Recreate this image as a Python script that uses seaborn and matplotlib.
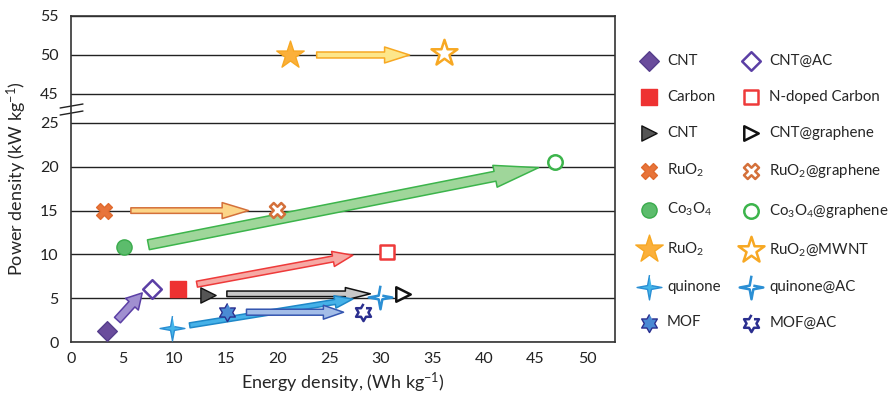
import numpy as np
import matplotlib
matplotlib.use("Agg")
import matplotlib.pyplot as plt
import seaborn as sns

# pristine material -> composite material (Energy density Wh/kg, Power density kW/kg)
pristine_labels = ["CNT", "Carbon", "CNT", "RuO$_2$", "Co$_3$O$_4$", "RuO$_2$", "quinone", "MOF"]
composite_labels = ["CNT@AC", "N-doped Carbon", "CNT@graphene", "RuO$_2$@graphene",
                    "Co$_3$O$_4$@graphene", "RuO$_2$@MWNT", "quinone@AC", "MOF@AC"]
pristine_energy = [3.5, 10.4, 13.3, 3.2, 5.1, 21.2, 9.8, 15.1]
pristine_power = [1.2, 6.1, 5.4, 15.0, 10.8, 50.0, 1.6, 3.4]
composite_energy = [7.8, 30.6, 32.2, 20.0, 46.9, 36.1, 29.9, 28.3]
composite_power = [6.1, 10.3, 5.5, 15.1, 20.5, 50.2, 5.1, 3.4]

# arrows drawn between each pair (tail -> tip, in data units)
arrow_start = [(4.5, 2.5), (12.2, 6.6), (15.1, 5.5), (5.8, 15.0), (7.5, 11.1), (23.8, 50.0), (11.5, 1.9), (17.0, 3.4)]
arrow_end = [(6.9, 5.6), (27.3, 9.9), (29.0, 5.5), (17.2, 15.0), (45.3, 19.9), (32.8, 50.0), (27.3, 4.9), (26.4, 3.4)]

x_ticks = list(range(0, 55, 5))
y_ticks = [0, 5, 10, 15, 20, 25, 45, 50, 55]


def star_verts(n, inner):
    ang = np.deg2rad(90 + np.arange(2 * n) * 180.0 / n)
    r = np.where(np.arange(2 * n) % 2 == 0, 1.0, inner)
    return list(zip(r * np.cos(ang), r * np.sin(ang)))


star4 = star_verts(4, 0.22)
star6 = star_verts(6, 0.577)

# marker, size, fill, edge, open-edge, arrow fill, arrow edge, arrow shape
styles = [
    ("D", 100, "#6a4c9c", "#553d8c", "#5b3fa5", "#a08fd0", "#5b3fa5", (0.58, 1.25, 1.1)),
    ("s", 125, "#ee3232", "#ee3232", "#ee3a3a", "#f6a9a4", "#ee3a3a", (0.43, 1.1, 1.45)),
    (">", 120, "#555555", "#111111", "#111111", "#c8c8c8", "#111111", (0.4, 0.9, 1.8)),
    ("X", 130, "#e8743a", "#e06a2e", "#d4703a", "#fcd588", "#d4703a", (0.4, 1.15, 1.9)),
    ("o", 120, "#5cbc6c", "#3aab4c", "#3cb44b", "#9fd69a", "#3cb44b", (0.72, 1.6, 3.2)),
    ("*", 430, "#fbb03b", "#f7a823", "#f7a823", "#fde68a", "#f7a823", (0.43, 1.15, 1.8)),
    (star4, 320, "#44b6ea", "#2b8fd4", "#2b8fd4", "#45b1e8", "#1f88c8", (0.36, 0.9, 1.3)),
    (star6, 170, "#4a8ad4", "#2b2f8f", "#2b2f8f", "#a3bde8", "#3556b0", (0.43, 1.0, 1.45)),
]

sns.set_style("white")
plt.rcParams["font.family"] = ["Lato", "DejaVu Sans"]
plt.rcParams["mathtext.fontset"] = "custom"
plt.rcParams["mathtext.rm"] = "Lato"
plt.rcParams["mathtext.it"] = "Lato:italic"
plt.rcParams["mathtext.bf"] = "Lato:bold"


# broken y axis: 0-25 and 45-55 with a short gap in between
def fwd(y):
    y = np.asarray(y, dtype=float)
    return np.where(y <= 25, y, np.where(y <= 45, 25 + (y - 25) * 0.1655, 28.31 + (y - 45) * 0.89))


def inv(v):
    v = np.asarray(v, dtype=float)
    return np.where(v <= 25, v, np.where(v <= 28.31, 25 + (v - 25) / 0.1655, 45 + (v - 28.31) / 0.89))


fig = plt.figure(figsize=(8.9, 3.96), dpi=100)
ax = fig.add_axes([71 / 890, 54 / 396, 544 / 890, 326 / 396])
ax.set_yscale("function", functions=(fwd, inv))

handles_p, handles_c = [], []
for i, st in enumerate(styles):
    mk, sz, fc, ec, oec, afc, aec, (tw, hw, hl) = st
    ax.annotate("", xy=arrow_end[i], xytext=arrow_start[i],
                arrowprops=dict(arrowstyle=f"simple,tail_width={tw},head_width={hw},head_length={hl}",
                                fc=afc, ec=aec, lw=1.1, shrinkA=0, shrinkB=0), zorder=3)
    sns.scatterplot(x=[pristine_energy[i]], y=[pristine_power[i]], ax=ax, marker=mk, s=sz,
                    color=fc, edgecolor=ec, linewidth=1.0, zorder=4, legend=False)
    handles_p.append(ax.collections[-1])
    sns.scatterplot(x=[composite_energy[i]], y=[composite_power[i]], ax=ax, marker=mk, s=sz * 0.9,
                    color="white", edgecolor=oec, linewidth=1.8, zorder=4, legend=False)
    handles_c.append(ax.collections[-1])

ax.set_xlim(0, 52.7)
ax.set_ylim(0, 55)
ax.set_xticks(x_ticks)
ax.set_yticks(y_ticks)
ax.set_xticklabels([str(t) for t in x_ticks])
ax.set_yticklabels([str(t) for t in y_ticks])
ax.tick_params(axis="both", length=0, labelsize=11.5, colors="#222222")
ax.tick_params(axis="y", pad=9)
ax.tick_params(axis="x", pad=7)
ax.yaxis.grid(True, color="#222222", lw=1.0)
ax.xaxis.grid(False)
ax.set_axisbelow(True)
for sp in ax.spines.values():
    sp.set_visible(True)
    sp.set_color("#333333")
    sp.set_linewidth(1.2)

ax.set_xlabel("Energy density, (Wh kg$^{-1}$)", fontsize=13, labelpad=4)
ax.set_ylabel("Power density (kW kg$^{-1}$)", fontsize=13, labelpad=8)

# break marks on the y axis
for dy in (0.0, -0.0215):
    ax.plot([-0.02, 0.022], [0.7178 + dy, 0.73 + dy], transform=ax.transAxes,
            color="#222222", lw=1.0, clip_on=False)

fig.legend(handles_p + handles_c, pristine_labels + composite_labels, ncol=2,
           loc="upper left", bbox_to_anchor=(640 / 890, 1 - 54 / 396), frameon=False,
           fontsize=10.8, labelspacing=1.46, handlelength=1.2, handletextpad=0.6,
           columnspacing=1.45, borderpad=0, borderaxespad=0, scatterpoints=1)

fig.savefig("out.png", dpi=100)
